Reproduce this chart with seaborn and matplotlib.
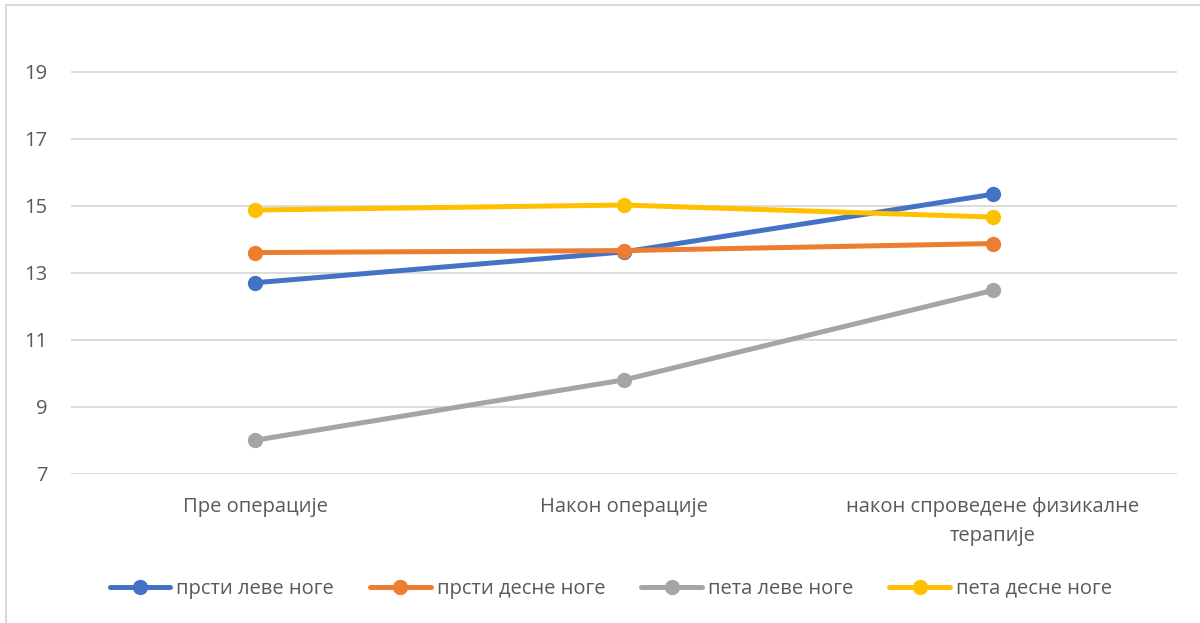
import pandas as pd
import seaborn as sns
import matplotlib.pyplot as plt
from matplotlib.patches import Rectangle

# categories and series
stages = ["Пре операције", "Након операције", "након спроведене физикалне\nтерапије"]
prsti_leve = [12.7, 13.62, 15.34]
prsti_desne = [13.6, 13.66, 13.87]
peta_leve = [8.0, 9.8, 12.47]
peta_desne = [14.87, 15.02, 14.66]

series_names = ["прсти леве ноге", "прсти десне ноге", "пета леве ноге", "пета десне ноге"]
colors = ["#4472C4", "#ED7D31", "#A5A5A5", "#FFC000"]

rows = []
for name, vals in zip(series_names, [prsti_leve, prsti_desne, peta_leve, peta_desne]):
    for st, v in zip(stages, vals):
        rows.append({"stage": st, "value": v, "series": name})
df = pd.DataFrame(rows)

sns.set_style("white")
plt.rcParams["font.family"] = ["Open Sans", "DejaVu Sans"]

fig = plt.figure(figsize=(12, 6.23), dpi=100)
ax = fig.add_axes([0.0592, 0.2397, 0.9218, 0.699])

sns.lineplot(data=df, x="stage", y="value", hue="series", palette=colors,
             marker="o", markersize=11, markeredgewidth=0, linewidth=3.6,
             sort=False, ax=ax)

ax.set_xlim(-0.5, 2.5)
ax.set_ylim(7, 20)
ax.set_yticks([7, 9, 11, 13, 15, 17, 19])
ax.yaxis.grid(True, color="#D9D9D9", linewidth=1.3)
ax.set_axisbelow(True)
for s in ax.spines.values():
    s.set_visible(False)
ax.tick_params(axis="both", length=0, labelsize=14.5, labelcolor="#595959")
ax.tick_params(axis="y", pad=17)
ax.tick_params(axis="x", pad=17)
ax.set_xlabel("")
ax.set_ylabel("")
for lbl in ax.get_xticklabels():
    lbl.set_linespacing(1.55)

handles, labels = ax.get_legend_handles_labels()
ax.legend(handles, labels, loc="lower center", bbox_to_anchor=(0.509, 0.01),
          bbox_transform=fig.transFigure, ncol=4, frameon=False,
          fontsize=14.5, labelcolor="#595959", handlelength=3.0,
          handletextpad=0.3, columnspacing=1.8)

# light chart frame
fig.patches.append(Rectangle((0.005, -0.02), 1.1, 1.012, transform=fig.transFigure,
                             fill=False, edgecolor="#D9D9D9", linewidth=1.5))

fig.savefig("out.png", dpi=100)
